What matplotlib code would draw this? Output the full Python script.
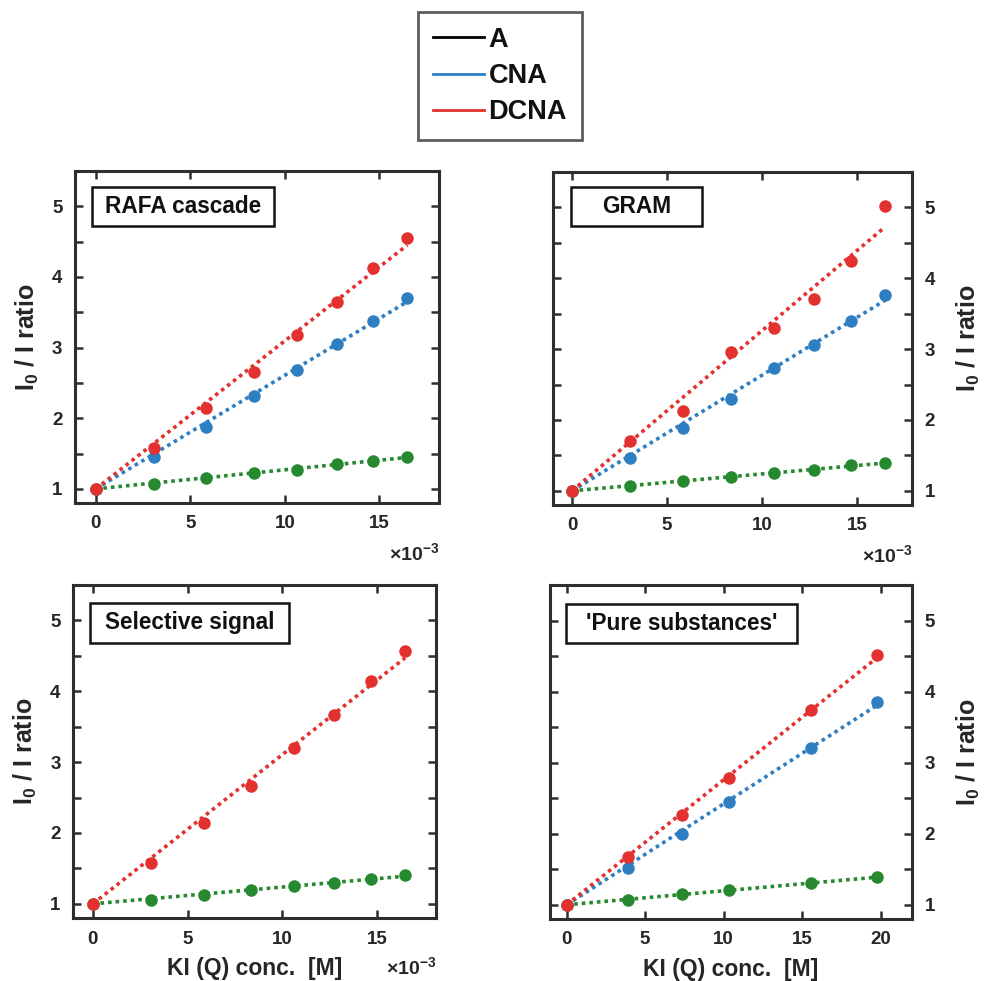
import numpy as np
import matplotlib
matplotlib.use("Agg")
import matplotlib.pyplot as plt
from matplotlib.lines import Line2D
from matplotlib.patches import Rectangle
from matplotlib.ticker import MultipleLocator

plt.rcParams['font.family'] = ['Liberation Sans', 'DejaVu Sans']
plt.rcParams['font.weight'] = 'bold'
plt.rcParams['mathtext.fontset'] = 'custom'
plt.rcParams['mathtext.rm'] = 'Liberation Sans:bold'
plt.rcParams['mathtext.bf'] = 'Liberation Sans:bold'
plt.rcParams['mathtext.it'] = 'Liberation Sans:bold'

# ---------------- data ----------------
# KI concentration (x 1e-3 M) for the first three panels
x_mix = [0, 3.08, 5.85, 8.35, 10.63, 12.74, 14.67, 16.47]
# 'Pure substances' concentrations
x_pure = [0, 3.89, 7.35, 10.36, 15.56, 19.8]

rafa_A = [1.0, 1.075, 1.155, 1.23, 1.27, 1.35, 1.40, 1.45]
rafa_CNA = [1.0, 1.45, 1.87, 2.31, 2.68, 3.05, 3.38, 3.70]
rafa_DCNA = [1.0, 1.58, 2.14, 2.66, 3.18, 3.64, 4.12, 4.55]

gram_A = [1.0, 1.07, 1.135, 1.20, 1.25, 1.30, 1.36, 1.39]
gram_CNA = [1.0, 1.47, 1.885, 2.30, 2.73, 3.06, 3.40, 3.76]
gram_DCNA = [1.0, 1.70, 2.12, 2.96, 3.30, 3.71, 4.24, 5.02]

sel_A = [1.0, 1.06, 1.13, 1.19, 1.25, 1.30, 1.35, 1.40]
sel_DCNA = [1.0, 1.58, 2.14, 2.66, 3.20, 3.66, 4.14, 4.57]

pure_A = [1.0, 1.07, 1.15, 1.21, 1.30, 1.39]
pure_CNA = [1.0, 1.52, 1.99, 2.45, 3.21, 3.85]
pure_DCNA = [1.0, 1.67, 2.26, 2.79, 3.74, 4.51]

panel_titles = ["RAFA cascade", "GRAM", "Selective signal", "'Pure substances'"]
legend_labels = ["A", "CNA", "DCNA"]

# ---------------- style ----------------
C_A = '#26892f'
C_CNA = '#2e7ec2'
C_DCNA = '#e3312f'
TXT = '#262626'
SPINE = '#2e2e2e'

W, H = 988, 981
fig = plt.figure(figsize=(W / 100, H / 100), dpi=100)


def px_axes(l, t, r, b):
    return fig.add_axes([l / W, 1 - b / H, (r - l) / W, (b - t) / H])


def series(ax, x, y, color):
    x = np.asarray(x, float)
    y = np.asarray(y, float)
    k = np.sum(x * (y - 1)) / np.sum(x * x)
    xf = np.array([x[0], x[-1]])
    ax.plot(xf, 1 + k * xf, color=color, lw=2.6, ls=(0, (1, 1.1)), zorder=2)
    ax.plot(x, y, 'o', color=color, ms=9, mec='none', zorder=3)


def style(ax, right, xlim, xticks, title, box):
    ax.set_xlim(*xlim)
    ax.set_ylim(0.8, 5.5)
    ax.set_xticks(xticks)
    ax.set_yticks([1, 2, 3, 4, 5])
    ax.yaxis.set_minor_locator(MultipleLocator(0.5))
    ax.tick_params(which='both', direction='in', top=True, right=True, left=True,
                   labelsize=13.5, colors=SPINE, labelcolor=TXT, width=1.8, pad=9)
    ax.tick_params(which='both', length=6)
    ax.tick_params(axis='x', which='minor', bottom=False, top=False)
    ylab = r'I$_0$ / I ratio'
    if right:
        ax.yaxis.tick_right()
        ax.tick_params(which='both', left=True, right=True, labelleft=False, labelright=True)
        ax.yaxis.set_label_position('right')
        ax.set_ylabel(ylab, fontsize=18, fontweight='bold', color=TXT, rotation=90, labelpad=14)
    else:
        ax.set_ylabel(ylab, fontsize=18, fontweight='bold', color=TXT, labelpad=8)
    for s in ax.spines.values():
        s.set_linewidth(2.2)
        s.set_color(SPINE)
    x0, x1, y0, y1 = box
    ax.add_patch(Rectangle((x0, y0), x1 - x0, y1 - y0, transform=ax.transAxes,
                           fill=True, fc='white', ec='#111111', lw=1.8, zorder=4))
    ax.text((x0 + x1) / 2, (y0 + y1) / 2, title, transform=ax.transAxes,
            ha='center', va='center', fontsize=16.3, fontweight='bold', color='#111111', zorder=5)


def offset(ax, y=-0.118):
    ax.text(1.0, y, r'$\times$10$^{-3}$', transform=ax.transAxes, ha='right',
            va='top', fontsize=14, fontweight='bold', color=TXT)


# Top-left
ax1 = px_axes(75, 171, 439, 503)
series(ax1, x_mix, rafa_A, C_A)
series(ax1, x_mix, rafa_CNA, C_CNA)
series(ax1, x_mix, rafa_DCNA, C_DCNA)
style(ax1, False, (-1.1, 18.15), [0, 5, 10, 15], panel_titles[0], (0.047, 0.547, 0.834, 0.952))
offset(ax1)

# Top-right
ax2 = px_axes(553, 172, 912, 505)
series(ax2, x_mix, gram_A, C_A)
series(ax2, x_mix, gram_CNA, C_CNA)
series(ax2, x_mix, gram_DCNA, C_DCNA)
style(ax2, True, (-1.0, 17.9), [0, 5, 10, 15], panel_titles[1], (0.050, 0.415, 0.838, 0.955))
offset(ax2)

# Bottom-left
ax3 = px_axes(73, 585, 436, 918)
series(ax3, x_mix, sel_A, C_A)
series(ax3, x_mix, sel_DCNA, C_DCNA)
style(ax3, False, (-1.05, 18.1), [0, 5, 10, 15], panel_titles[2], (0.047, 0.595, 0.826, 0.946))
ax3.set_xlabel('KI (Q) conc.  [M]', fontsize=16.5, fontweight='bold', color=TXT, labelpad=7)
offset(ax3, y=-0.115)

# Bottom-right
ax4 = px_axes(550, 585, 912, 919)
series(ax4, x_pure, pure_A, C_A)
series(ax4, x_pure, pure_CNA, C_CNA)
series(ax4, x_pure, pure_DCNA, C_DCNA)
style(ax4, True, (-1.06, 22.0), [0, 5, 10, 15, 20], panel_titles[3], (0.044, 0.682, 0.826, 0.943))
ax4.set_xlabel('KI (Q) conc.  [M]', fontsize=16.5, fontweight='bold', color=TXT, labelpad=7)

# Legend
handles = [Line2D([], [], color='black', lw=2),
           Line2D([], [], color=C_CNA, lw=2),
           Line2D([], [], color=C_DCNA, lw=2)]
leg = fig.legend(handles, legend_labels, loc='upper center', bbox_to_anchor=(500 / W, 1 - 12 / H),
                 prop={'weight': 'bold', 'size': 19.5}, frameon=True, fancybox=False,
                 handlelength=1.9, handletextpad=0.15, labelspacing=0.38, borderpad=0.55,
                 borderaxespad=0)
leg.get_frame().set_edgecolor('#333333')
leg.get_frame().set_linewidth(2)
for t in leg.get_texts():
    t.set_color('#111111')

fig.savefig('out.png', dpi=100)
